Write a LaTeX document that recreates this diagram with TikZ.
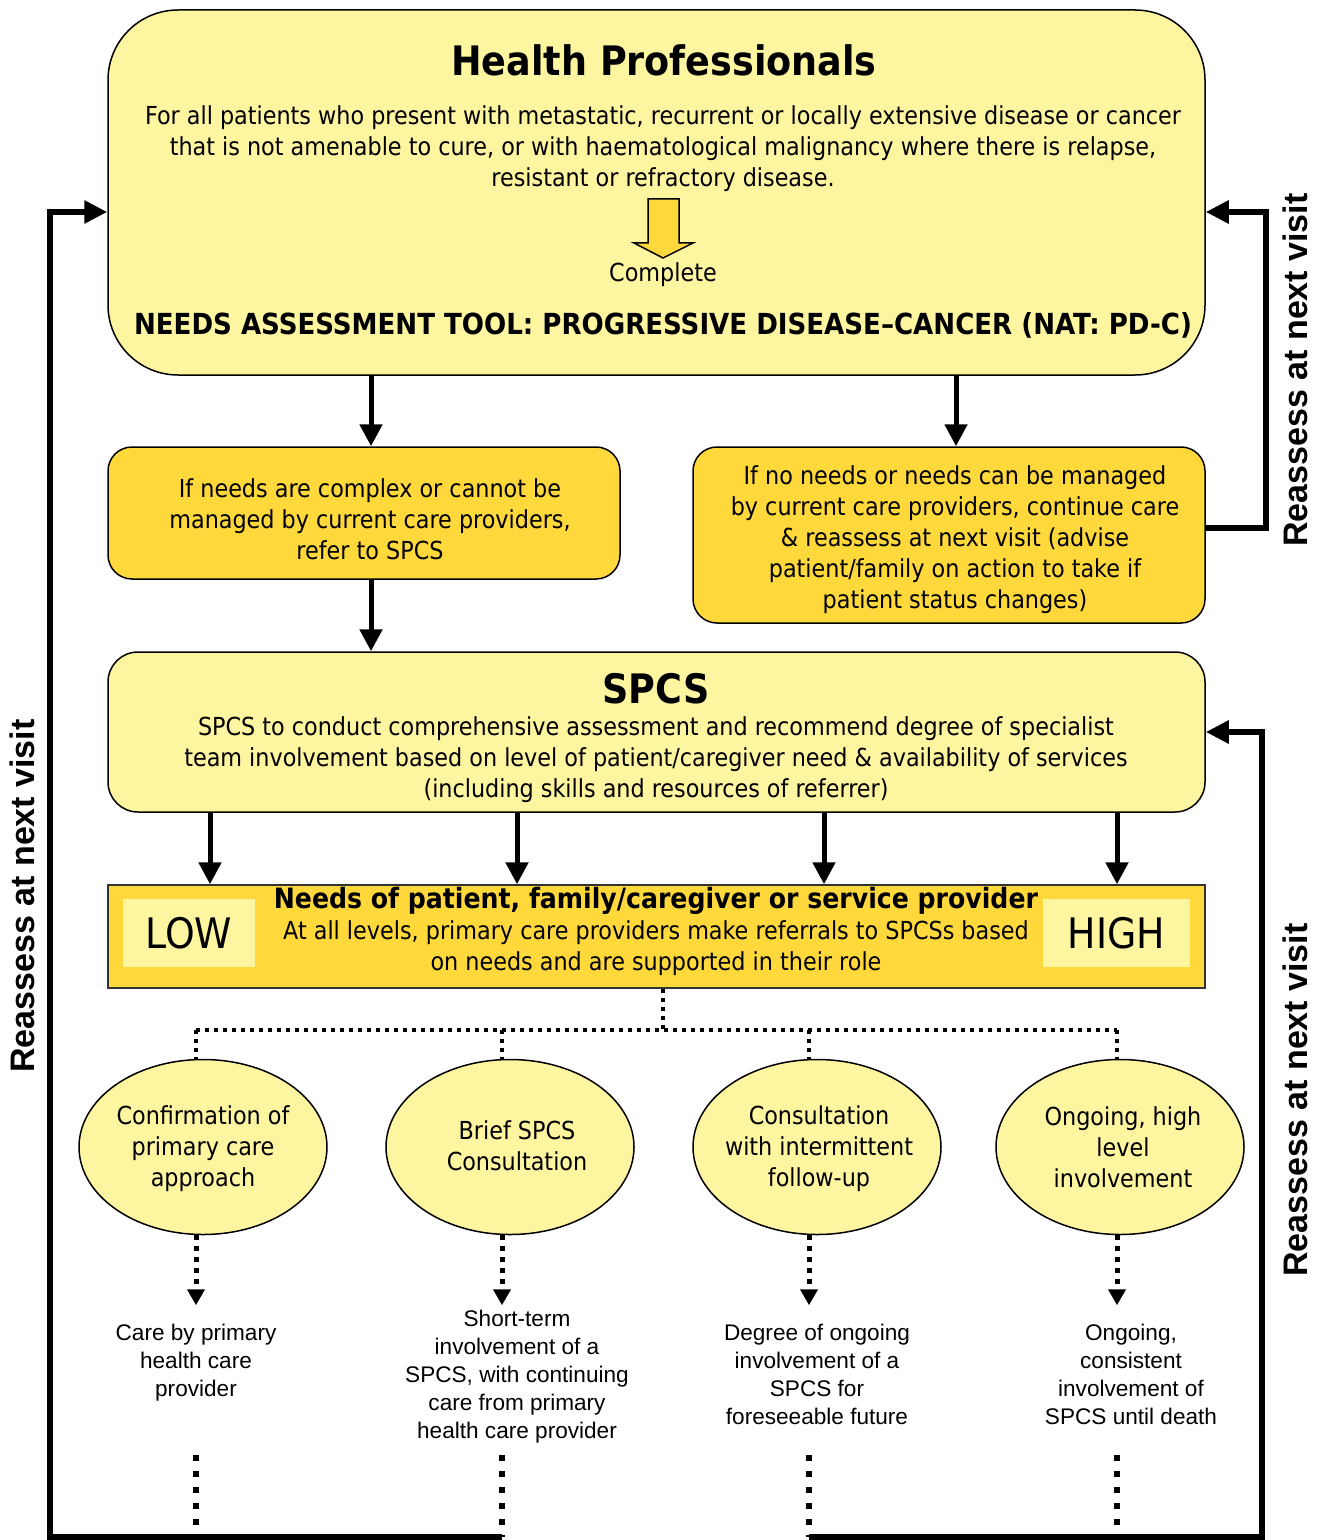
\documentclass[tikz,border=0pt]{standalone}
\usepackage{fontspec}
\setmainfont{DejaVu Sans Condensed}
\newfontfamily\arialfont{Liberation Sans}
\usetikzlibrary{positioning,arrows.meta,shapes.geometric}
\definecolor{paleyellow}{HTML}{FEF5A0}
\definecolor{gold}{HTML}{FFD83C}

\begin{document}
\begin{tikzpicture}[
  x=0.5pt, y=-0.5pt,
  bigbox/.style={draw, line width=0.75pt, fill=paleyellow, inner sep=0pt},
  goldbox/.style={draw, line width=0.75pt, fill=gold, rounded corners=12pt, inner sep=0pt},
  body/.style={align=center, inner sep=0pt, font=\fontsize{12.4}{15.5}\selectfont},
  heading/.style={inner sep=0pt, font=\fontsize{20.3}{23}\selectfont\bfseries},
  level/.style={fill=paleyellow, inner sep=0pt, minimum height=34pt, font=\fontsize{21}{23}\selectfont},
  option/.style={ellipse, draw, line width=0.75pt, fill=paleyellow, minimum width=124pt,
    minimum height=87.5pt, inner sep=0pt},
  outcome/.style={align=center, inner sep=0pt, font=\arialfont\fontsize{11.3}{14}\selectfont},
  reassess/.style={rotate=90, inner sep=0pt, font=\arialfont\fontsize{17}{20}\selectfont\bfseries},
  arr/.style={line width=2.5pt, -{Triangle[length=11pt,width=11pt]}},
  loopline/.style={line width=3pt, -{Triangle[length=11.5pt,width=11pt]}},
  dotline/.style={line width=2pt, dash pattern=on 2pt off 2.5pt},
  dotarrow/.style={line width=2.5pt, dash pattern=on 2.5pt off 3pt, -{Triangle[length=8pt,width=8.5pt]}},
  dotthick/.style={line width=3pt, dash pattern=on 3pt off 5pt}
]
  \useasboundingbox (0,0) rectangle (1322,1540);

  % top box
  \node[bigbox, rounded corners=35pt, minimum width=548.5pt, minimum height=182.5pt] (hp) at (656.5,192.5) {};
  \node[heading] (hptitle) at (664,60) {Health Professionals};
  \node[body] (hpbody) at (663,149) {For all patients who present with metastatic, recurrent or locally extensive disease or cancer\\
    that is not amenable to cure, or with haematological malignancy where there is relapse,\\
    resistant or refractory disease.};
  \draw[fill=gold, line width=0.75pt] (648,199) -- (679,199) -- (679,243) -- (693,243) -- (663,258)
    -- (634,243) -- (648,243) -- cycle;
  \node[body] (complete) at (663,275) {Complete};
  \node[body, font=\fontsize{14.5}{17}\selectfont\bfseries] (nat) at (663,325)
    {NEEDS ASSESSMENT TOOL: PROGRESSIVE DISEASE\textendash CANCER (NAT: PD-C)};

  % the two choices
  \node[goldbox, minimum width=256pt, minimum height=66pt] (lbox) at (364,513) {};
  \node[body] (ltext) at (370,519)
    {If needs are complex or cannot be\\managed by current care providers,\\refer to SPCS};
  \node[goldbox, minimum width=256pt, minimum height=88pt] (rbox) at (949,535) {};
  \node[body] (rtext) at (955,540)
    {If no needs or needs can be managed\\by current care providers, continue care\\
     \& reassess at next visit (advise\\patient/family on action to take if\\patient status changes)};

  % SPCS
  \node[bigbox, rounded corners=15pt, minimum width=548.5pt, minimum height=80pt] (spcs) at (656.5,732) {};
  \node[heading] (spcstitle) at (656,689) {SPCS};
  \node[body] (spcsbody) at (656,760) {SPCS to conduct comprehensive assessment and recommend degree of specialist\\
    team involvement based on level of patient/caregiver need \& availability of services\\
    (including skills and resources of referrer)};

  % needs bar
  \node[draw=black!80, line width=0.75pt, fill=gold, minimum width=548.5pt, minimum height=51.5pt,
    inner sep=0pt] (needs) at (656.5,936.5) {};
  \node[body, font=\fontsize{14}{16}\selectfont\bfseries] (needstitle) at (656,901)
    {Needs of patient, family/caregiver or service provider};
  \node[body] (needsbody) at (656,948) {At all levels, primary care providers make referrals to SPCSs based\\
    on needs and are supported in their role};
  \node[level, minimum width=66pt] (low) at (189,933) {LOW};
  \node[level, minimum width=73.5pt] (high) at (1116.5,933) {HIGH};

  % arrows between boxes
  \draw[arr] ([xshift=3.5pt]hp.south -| lbox.north) -- ([xshift=3.5pt]lbox.north);
  \draw[arr] ([xshift=3.5pt]hp.south -| rbox.north) -- ([xshift=3.5pt]rbox.north);
  \draw[arr] ([xshift=3.5pt]lbox.south) -- ([xshift=3.5pt]spcs.north -| lbox.south);
  \foreach \x in {210,517,824,1117}
    \draw[arr] (spcs.south -| \x,0) -- (needs.north -| \x,0);

  % options
  \node[option] (e1) at (203,1147) {};
  \node[option] (e2) at (510,1147) {};
  \node[option] (e3) at (817,1147) {};
  \node[option] (e4) at (1120,1147) {};
  \node[body] at (203,1149) {Confirmation of\\primary care\\approach};
  \node[body] at (517,1146) {Brief SPCS\\Consultation};
  \node[body] at (819,1149) {Consultation\\with intermittent\\follow-up};
  \node[body] at (1123,1147) {Ongoing, high\\level\\involvement};

  \node[outcome] (t1) at (196,1363) {Care by primary\\health care\\provider};
  \node[outcome] (t2) at (517,1377) {Short-term\\involvement of a\\SPCS, with continuing\\care from primary\\health care provider};
  \node[outcome] (t3) at (817,1374) {Degree of ongoing\\involvement of a\\SPCS for\\foreseeable future};
  \node[outcome] (t4) at (1131,1374) {Ongoing,\\consistent\\involvement of\\SPCS until death};

  % dotted connectors
  \coordinate (hub) at (663,1030);
  \foreach \i/\x in {1/196,2/502,3/809,4/1117}
    \coordinate (c\i) at (\x,1030);
  \coordinate (lbot) at (50,1537);
  \coordinate (rbot) at (1262,1537);
  \draw[dotline] (needs.south -| hub) -- (hub);
  \draw[dotline] (c1) -- (c4);
  \foreach \i in {1,...,4} {
    \draw[dotline] (c\i) -- (e\i.north -| c\i);
    \draw[dotarrow] (e\i.south -| c\i) -- ++(0,70);
    \draw[dotthick] (c\i |- 0,1455) -- (c\i |- lbot);
  }

  % reassess loops
  \draw[loopline] (c2 |- lbot) -- (lbot) |- ([yshift=-9.75pt]hp.west);
  \draw[loopline] (c3 |- rbot) -- (rbot) |- (spcs.east);
  \draw[loopline] ([yshift=3.5pt]rbox.east) -- ++(60,0) |- ([yshift=-9.75pt]hp.east);

  \node[reassess] (rl) at (22,896) {Reassess at next visit};
  \node[reassess] (rt) at (1295,370) {Reassess at next visit};
  \node[reassess] (rb) at (1295,1100) {Reassess at next visit};
\end{tikzpicture}
\end{document}
